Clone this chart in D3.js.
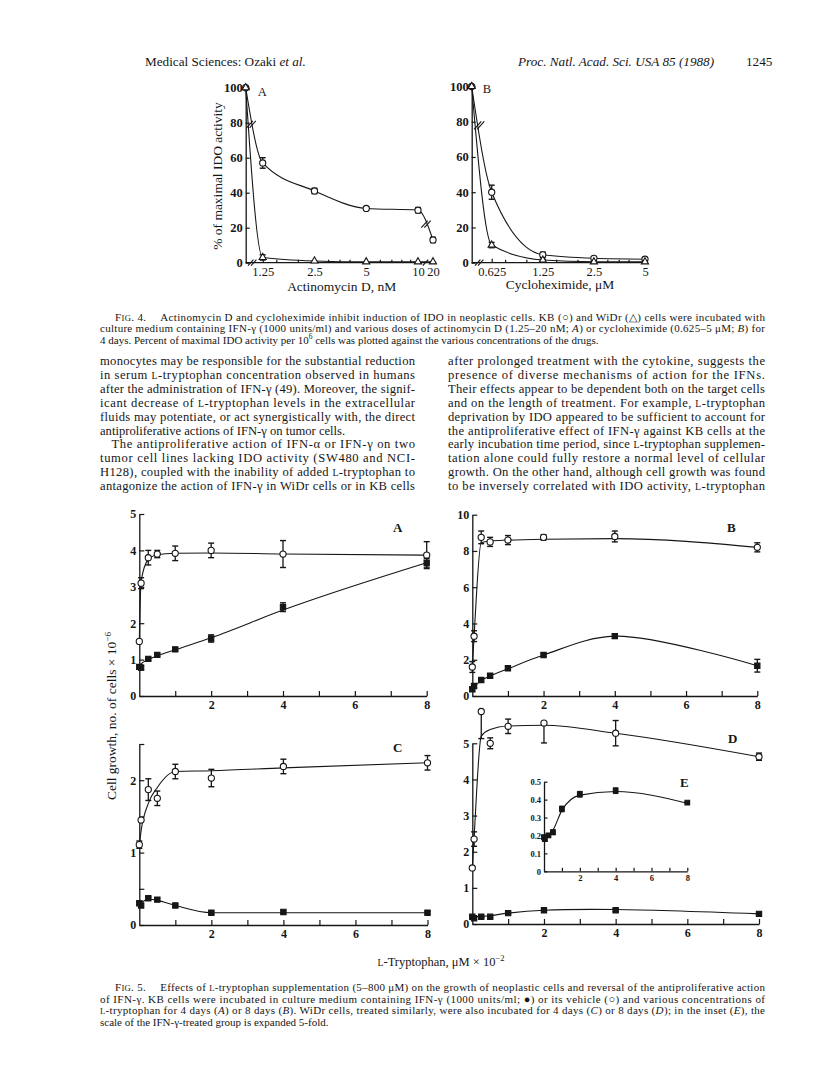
<!DOCTYPE html>
<html>
<head>
<meta charset="utf-8">
<script src="https://cdn.jsdelivr.net/npm/d3@7"></script>
<style>
body{margin:0;background:#fff}
svg{display:block}
text{font-family:"Liberation Serif","Times New Roman",serif;fill:#161616}
</style>
</head>
<body>
<svg id="page"></svg>
<script>
// ---- Fig. 4 data (percent of maximal IDO activity)
var actDose = [0, 1.25, 2.5, 5, 10, 20];
var actKB = [100, 57, 41, 31, 30, 13];
var actKBErr = [0, 3, 1.5, 1, 1.5, 1.5];
var actWiDr = [100, 3, 1, 0.5, 0.5, 0.5];
var actWiDrErr = [0, 1.5, 0, 0, 0, 0];
var actTicks = [1.25, 2.5, 5, 10, 20];
var actMinor = [1.5, 2, 3, 3.5, 4, 6, 7, 8, 9];

var cycDose = [0, 0.625, 1.25, 2.5, 5];
var cycKB = [100, 40, 4.5, 2.5, 2];
var cycKBErr = [0, 4, 1.5, 1, 1];
var cycWiDr = [100, 10, 1.5, 0.5, 0.5];
var cycWiDrErr = [0, 1.5, 0.5, 0.5, 0.5];
var cycTicks = [0.625, 1.25, 2.5, 5];
var cycMinor = [0.75, 1, 1.5, 2, 3, 3.5, 4];
var pctTicks = [0, 20, 40, 60, 80, 100];

// ---- Fig. 5 data (cells x 10^-6 vs L-tryptophan, uM x 10^-2)
var trp = [0, 0.05, 0.25, 0.5, 1, 2, 4, 8];
// A: KB 4 days
var kb4Veh    = [1.5, 3.1, 3.8, 3.9, 3.92, 4.0, 3.9, 3.87];
var kb4VehErr = [0, 0.15, 0.2, 0.1, 0.2, 0.2, 0.37, 0.37];
var kb4VehFit = [1.5, 3.15, 3.75, 3.88, 3.92, 3.93, 3.9, 3.87];
var kb4Ifn    = [0.8, 0.78, 1.02, 1.13, 1.28, 1.58, 2.44, 3.66];
var kb4IfnErr = [0.06, 0.06, 0.04, 0.05, 0.05, 0.1, 0.12, 0.12];
var kb4IfnFit = [0.8, 0.88, 1.0, 1.1, 1.27, 1.6, 2.36, 3.66];
// B: KB 8 days
var kb8Veh    = [1.6, 3.3, 8.75, 8.5, 8.6, 8.75, 8.8, 8.2];
var kb8VehErr = [0.3, 0.3, 0.35, 0.25, 0.25, 0.15, 0.3, 0.25];
var kb8VehFit = [1.6, 3.3, 8.45, 8.55, 8.6, 8.65, 8.68, 8.2];
var kb8Ifn    = [0.37, 0.55, 0.88, 1.12, 1.53, 2.26, 3.3, 1.67];
var kb8IfnErr = [0.1, 0.1, 0.1, 0.1, 0.1, 0.1, 0.12, 0.35];
var kb8IfnFit = [0.37, 0.5, 0.85, 1.1, 1.5, 2.26, 3.3, 1.67];
// C: WiDr 4 days
var wd4Veh    = [1.11, 1.45, 1.87, 1.75, 2.12, 2.03, 2.19, 2.24];
var wd4VehErr = [0.05, 0, 0.15, 0.1, 0.1, 0.12, 0.1, 0.1];
var wd4VehFit = [1.1, 1.3, 1.68, 1.9, 2.12, 2.13, 2.17, 2.24];
var wd4Ifn    = [0.3, 0.27, 0.37, 0.35, 0.27, 0.17, 0.18, 0.17];
var wd4IfnErr = [0.02, 0.02, 0.02, 0.02, 0.02, 0.02, 0.02, 0.02];
var wd4IfnFit = [0.3, 0.31, 0.36, 0.34, 0.27, 0.17, 0.17, 0.17];
// D: WiDr 8 days
var wd8Veh     = [1.55, 2.35, 5.88, 5.0, 5.47, 5.56, 5.28, 4.63];
var wd8VehErr  = [0, 0.2, 0, 0.15, 0.2, 0, 0.35, 0.1];
var wd8VehLow  = [0, 0.2, 0.75, 0.15, 0.2, 0.55, 0.35, 0.1];
var wd8VehFit  = [1.55, 2.4, 5.2, 5.38, 5.48, 5.5, 5.28, 4.63];
var wd8Ifn    = [0.2, 0.16, 0.2, 0.2, 0.3, 0.38, 0.38, 0.28];
var wd8IfnErr = [0.03, 0.03, 0.03, 0.03, 0.03, 0.04, 0.04, 0.03];
var wd8IfnFit = [0.2, 0.2, 0.21, 0.23, 0.3, 0.38, 0.4, 0.28];
// E: inset, IFN-treated WiDr 8 days expanded
var wd8IfnE    = [0.19, 0.18, 0.2, 0.218, 0.348, 0.43, 0.45, 0.383];
var wd8IfnEErr = [0.01, 0.01, 0.01, 0.012, 0.015, 0.015, 0.015, 0.005];
var wd8IfnEFit = [0.185, 0.19, 0.2, 0.23, 0.34, 0.425, 0.445, 0.38];

var trpTicks = [1, 2, 3, 4, 5, 6, 7, 8];
var trpLabels = [2, 4, 6, 8];

var ink = "#161616";
var svg = d3.select("#page").attr("width", 816).attr("height", 1078);
svg.append("rect").attr("width", 816).attr("height", 1078).attr("fill", "#fff");

// rich text: {..} small caps, *..* italic, ^..^ superscript
var richText = function(g, x, y, str, size, width, anchor)
{
    var t = g.append("text").attr("x", x).attr("y", y).style("font-size", size + "px");
    if (anchor) t.attr("text-anchor", anchor);
    var shift = 0;
    str.split(/(\{[^}]*\}|\*[^*]*\*|\^[^^]*\^)/g).forEach(function(p)
    {
        if (!p) return;
        var s;
        if (p[0] == "{") s = t.append("tspan").style("font-size", (size * 0.78) + "px").text(p.slice(1, -1));
        else if (p[0] == "*") s = t.append("tspan").style("font-style", "italic").text(p.slice(1, -1));
        else if (p[0] == "^") {
            s = t.append("tspan").style("font-size", (size * 0.68) + "px").text(p.slice(1, -1));
            s.attr("dy", -size * 0.4 - shift); shift = -size * 0.4; return;
        }
        else s = t.append("tspan").text(p);
        if (shift) { s.attr("dy", -shift); shift = 0; }
    });
    if (width) t.attr("textLength", width).attr("lengthAdjust", "spacing");
    return t;
}

var block = function(lines, x0, y0, lead, size, right)
{
    lines.forEach(function(l, i)
    {
        var x = x0 + (l.indent || 0);
        richText(svg, x, y0 + i * lead, l.t, size, l.last ? null : right - x);
    });
}

// ---- running head
richText(svg, 145, 66, "Medical Sciences: Ozaki *et al.*", 13.2);
richText(svg, 518, 66, "*Proc. Natl. Acad. Sci. USA 85 (1988)*", 13.2);
richText(svg, 746, 66, "1245", 13.2);

// ---- shared drawing helpers
var drawSeries = function(g, s, xS, yS)
{
    var pts = s.x.map(function(v, i) { return [v, s.fit ? s.fit[i] : s.y[i]]; });
    var line = d3.line()
        .x(function(d) { return xS(d[0]); })
        .y(function(d) { return yS(d[1]); })
        .curve(s.curve || d3.curveMonotoneX);
    g.append("path").attr("d", line(pts)).attr("fill", "none")
        .attr("stroke", ink).attr("stroke-width", 1.1);
    var cap = s.cap || 3;
    s.x.forEach(function(v, i)
    {
        var hi = s.err ? s.err[i] : 0;
        var lo = s.low ? s.low[i] : hi;
        if (!hi && !lo) return;
        var cx = xS(v), y1 = yS(s.y[i] + hi), y2 = yS(s.y[i] - lo);
        g.append("line").attr("x1", cx).attr("x2", cx).attr("y1", y1).attr("y2", y2)
            .attr("stroke", ink).attr("stroke-width", 1.3);
        if (hi) g.append("line").attr("x1", cx - cap).attr("x2", cx + cap).attr("y1", y1).attr("y2", y1)
            .attr("stroke", ink).attr("stroke-width", 1.4);
        if (lo) g.append("line").attr("x1", cx - cap).attr("x2", cx + cap).attr("y1", y2).attr("y2", y2)
            .attr("stroke", ink).attr("stroke-width", 1.4);
    });
    var type = s.shape == "tri" ? d3.symbolTriangle : (s.shape == "sq" ? d3.symbolSquare : d3.symbolCircle);
    var sym = d3.symbol().type(type).size(s.size || 30);
    g.selectAll(null).data(s.x).enter().append("path")
        .attr("d", sym)
        .attr("transform", function(d, i) { return "translate(" + xS(d) + "," + yS(s.y[i]) + ")"; })
        .attr("fill", s.filled ? ink : "#fff")
        .attr("stroke", ink).attr("stroke-width", 1.1);
}

var styleAxis = function(a, size, bold)
{
    a.attr("font-family", null).attr("font-size", null);
    a.selectAll("text").style("font-size", size + "px").style("font-weight", bold ? "bold" : "normal")
        .attr("fill", ink);
    a.selectAll("line").attr("stroke", ink).attr("stroke-width", 1.2);
    a.selectAll("path.domain").attr("stroke", ink).attr("stroke-width", 1.3);
}

var slash = function(g, x, y, len)
{
    g.append("line").attr("x1", x - len * 0.45).attr("y1", y + len * 0.5)
        .attr("x2", x + len * 0.45).attr("y2", y - len * 0.5)
        .attr("stroke", ink).attr("stroke-width", 1.1);
}

// ---- Fig. 4A
var f4 = svg.append("g");
var yA4 = d3.scaleLinear().domain([0, 100]).range([262.7, 87.7]);
var logA = d3.scaleLog().domain([1.25, 10, 20]).range([262.7, 418, 433]);
var x0A = 245.7;
var xA4 = function(d) { return d === 0 ? x0A : logA(d); };

var drawFig4 = function(xS, logS, x0, yS, ticks, minor, xEnd, fmt)
{
    var ya = f4.append("g").attr("transform", "translate(" + x0 + ",0)")
        .call(d3.axisLeft(yS).tickValues(pctTicks).tickSize(-4).tickSizeOuter(0).tickPadding(3));
    styleAxis(ya, 12.5, true);
    f4.append("line").attr("x1", x0).attr("x2", xEnd).attr("y1", yS(0)).attr("y2", yS(0))
        .attr("stroke", ink).attr("stroke-width", 1.3);
    var xa = f4.append("g").attr("transform", "translate(0," + yS(0) + ")")
        .call(d3.axisBottom(logS).tickValues(ticks).tickFormat(fmt).tickSize(-4).tickPadding(4));
    xa.select("path.domain").remove();
    styleAxis(xa, 12.5, false);
    var xm = f4.append("g").attr("transform", "translate(0," + yS(0) + ")")
        .call(d3.axisBottom(logS).tickValues(minor).tickFormat("").tickSize(-3));
    xm.select("path.domain").remove();
    styleAxis(xm, 12, false);
}

drawFig4(xA4, logA, x0A, yA4, actTicks, actMinor, logA(20) + 3, function(d) { return d; });
drawSeries(f4, {x: actDose, y: actKB, err: actKBErr}, xA4, yA4);
drawSeries(f4, {x: actDose, y: actWiDr, err: actWiDrErr, shape: "tri", size: 22}, xA4, yA4);
slash(f4, x0A + 4, yA4(79), 7); slash(f4, x0A + 7, yA4(79), 7);
slash(f4, x0A + 5, yA4(0), 6); slash(f4, x0A + 8, yA4(0), 6);
slash(f4, (logA(10) + logA(20)) / 2 - 1, yA4(22), 7); slash(f4, (logA(10) + logA(20)) / 2 + 2, yA4(22), 7);
slash(f4, (logA(10) + logA(20)) / 2, yA4(0), 6);
richText(f4, x0A + 12, yA4(95), "A", 12.5);
richText(f4, 341.7, 291, "Actinomycin D, nM", 13.5, null, "middle");
richText(f4, 0, 0, "% of maximal IDO activity", 13.5, null, "middle")
    .attr("transform", "translate(222,176) rotate(-90)");

// ---- Fig. 4B
var yB4 = d3.scaleLinear().domain([0, 100]).range([262.7, 86.5]);
var logB = d3.scaleLog().domain([0.625, 5]).range([491.7, 645]);
var x0B = 471.7;
var xB4 = function(d) { return d === 0 ? x0B : logB(d); };
drawFig4(xB4, logB, x0B, yB4, cycTicks, cycMinor, logB(5) + 3, function(d) { return d; });
drawSeries(f4, {x: cycDose, y: cycKB, err: cycKBErr}, xB4, yB4);
drawSeries(f4, {x: cycDose, y: cycWiDr, err: cycWiDrErr, shape: "tri", size: 22}, xB4, yB4);
slash(f4, x0B + 6, yB4(78), 8); slash(f4, x0B + 9, yB4(78), 8);
slash(f4, x0B + 6, yB4(0), 6); slash(f4, x0B + 9, yB4(0), 6);
richText(f4, x0B + 11, yB4(96.5), "B", 12.5);
richText(f4, 560, 289, "Cycloheximide, \u03bcM", 13.5, null, "middle");

// ---- Fig. 4 legend
block([
    {t: "F{IG}. 4.\u2003 Actinomycin D and cycloheximide inhibit induction of IDO in neoplastic cells. KB (\u25cb) and WiDr (\u25b3) cells were incubated with", indent: 15},
    {t: "culture medium containing IFN-\u03b3 (1000 units/ml) and various doses of actinomycin D (1.25\u201320 nM; *A*) or cycloheximide (0.625\u20135 \u03bcM; *B*) for"},
    {t: "4 days. Percent of maximal IDO activity per 10^6^ cells was plotted against the various concentrations of the drugs.", last: true}
], 100, 320.5, 11.6, 11, 765);

// ---- body text
block([
    {t: "monocytes may be responsible for the substantial reduction"},
    {t: "in serum {L}-tryptophan concentration observed in humans"},
    {t: "after the administration of IFN-\u03b3 (49). Moreover, the signif-"},
    {t: "icant decrease of {L}-tryptophan levels in the extracellular"},
    {t: "fluids may potentiate, or act synergistically with, the direct"},
    {t: "antiproliferative actions of IFN-\u03b3 on tumor cells.", last: true},
    {t: "The antiproliferative action of IFN-\u03b1 or IFN-\u03b3 on two", indent: 11.5},
    {t: "tumor cell lines lacking IDO activity (SW480 and NCI-"},
    {t: "H128), coupled with the inability of added {L}-tryptophan to"},
    {t: "antagonize the action of IFN-\u03b3 in WiDr cells or in KB cells"}
], 100, 365, 13.9, 12.6, 415);
block([
    {t: "after prolonged treatment with the cytokine, suggests the"},
    {t: "presence of diverse mechanisms of action for the IFNs."},
    {t: "Their effects appear to be dependent both on the target cells"},
    {t: "and on the length of treatment. For example, {L}-tryptophan"},
    {t: "deprivation by IDO appeared to be sufficient to account for"},
    {t: "the antiproliferative effect of IFN-\u03b3 against KB cells at the"},
    {t: "early incubation time period, since {L}-tryptophan supplemen-"},
    {t: "tation alone could fully restore a normal level of cellular"},
    {t: "growth. On the other hand, although cell growth was found"},
    {t: "to be inversely correlated with IDO activity, {L}-tryptophan"}
], 448, 365, 13.9, 12.6, 765);

// ---- Fig. 5 panels
var f5 = svg.append("g");
var panel = function(p)
{
    var g = f5.append("g");
    var xS = d3.scaleLinear().domain([0, 8]).range(p.xr);
    var yS = d3.scaleLinear().domain([0, p.ymax]).range(p.yr);
    var ya = g.append("g").attr("transform", "translate(" + p.xr[0] + ",0)")
        .call(d3.axisLeft(yS).tickValues(p.yticks).tickSize(-p.tick).tickSizeOuter(0).tickPadding(3)
            .tickFormat(function(d) { return p.ylabels.indexOf(d) >= 0 ? d : ""; }));
    styleAxis(ya, p.font, true);
    var xa = g.append("g").attr("transform", "translate(0," + p.yr[0] + ")")
        .call(d3.axisBottom(xS).tickValues(trpTicks).tickSize(-p.tick).tickSizeOuter(0).tickPadding(4)
            .tickFormat(function(d) { return trpLabels.indexOf(d) >= 0 ? d : ""; }));
    styleAxis(xa, p.font, true);
    p.series.forEach(function(s) { drawSeries(g, s, xS, yS); });
    richText(g, p.lx, p.ly, p.letter, 13).style("font-weight", "bold");
}

panel({xr: [139.3, 426.7], yr: [696, 514], ymax: 5, yticks: [0, 1, 2, 3, 4, 5], ylabels: [0, 1, 2, 3, 4, 5],
    tick: 5, font: 12, letter: "A", lx: 393, ly: 532,
    series: [
        {x: trp, y: kb4Veh, err: kb4VehErr, fit: kb4VehFit},
        {x: trp, y: kb4Ifn, err: kb4IfnErr, fit: kb4IfnFit, filled: true, shape: "sq", size: 28}
    ]});
panel({xr: [472.3, 757.3], yr: [696, 514.7], ymax: 10, yticks: [0, 2, 4, 6, 8, 10], ylabels: [0, 2, 4, 6, 8, 10],
    tick: 5, font: 12, letter: "B", lx: 727, ly: 532,
    series: [
        {x: trp, y: kb8Veh, err: kb8VehErr, fit: kb8VehFit},
        {x: trp, y: kb8Ifn, err: kb8IfnErr, fit: kb8IfnFit, filled: true, shape: "sq", size: 28, curve: d3.curveCatmullRom}
    ]});
panel({xr: [139.3, 427.5], yr: [925, 744], ymax: 2.5, yticks: [0, 0.5, 1, 1.5, 2, 2.5], ylabels: [0, 1, 2],
    tick: 5, font: 12, letter: "C", lx: 393, ly: 752,
    series: [
        {x: trp, y: wd4Veh, err: wd4VehErr, fit: wd4VehFit},
        {x: trp, y: wd4Ifn, err: wd4IfnErr, fit: wd4IfnFit, filled: true, shape: "sq", size: 28}
    ]});
panel({xr: [472.3, 759], yr: [924, 743.3], ymax: 5, yticks: [0, 1, 2, 3, 4, 5], ylabels: [0, 1, 2, 3, 4, 5],
    tick: 5, font: 12, letter: "D", lx: 728, ly: 743,
    series: [
        {x: trp, y: wd8Veh, err: wd8VehErr, low: wd8VehLow, fit: wd8VehFit},
        {x: trp, y: wd8Ifn, err: wd8IfnErr, fit: wd8IfnFit, filled: true, shape: "sq", size: 28, curve: d3.curveCatmullRom}
    ]});
panel({xr: [544, 687.3], yr: [871.3, 781.7], ymax: 0.5, yticks: [0, 0.1, 0.2, 0.3, 0.4, 0.5],
    ylabels: [0, 0.1, 0.2, 0.3, 0.4, 0.5], tick: 3.5, font: 8.5, letter: "E", lx: 680, ly: 787,
    series: [
        {x: trp, y: wd8IfnE, err: wd8IfnEErr, fit: wd8IfnEFit, filled: true, shape: "sq", size: 22, cap: 2.5}
    ]});

richText(f5, 0, 0, "Cell growth, no. of cells \u00d7 10^\u22126^", 13.5, null, "middle")
    .attr("transform", "translate(116,716) rotate(-90)");
richText(f5, 441, 966, "{L}-Tryptophan, \u03bcM \u00d7 10^\u22122^", 12.5, null, "middle");

// ---- Fig. 5 legend
block([
    {t: "F{IG}. 5.\u2003 Effects of {L}-tryptophan supplementation (5\u2013800 \u03bcM) on the growth of neoplastic cells and reversal of the antiproliferative action", indent: 15},
    {t: "of IFN-\u03b3. KB cells were incubated in culture medium containing IFN-\u03b3 (1000 units/ml; \u25cf) or its vehicle (\u25cb) and various concentrations of"},
    {t: "{L}-tryptophan for 4 days (*A*) or 8 days (*B*). WiDr cells, treated similarly, were also incubated for 4 days (*C*) or 8 days (*D*); in the inset (*E*), the"},
    {t: "scale of the IFN-\u03b3-treated group is expanded 5-fold.", last: true}
], 100, 991, 11.7, 11, 765);
</script>
</body>
</html>
